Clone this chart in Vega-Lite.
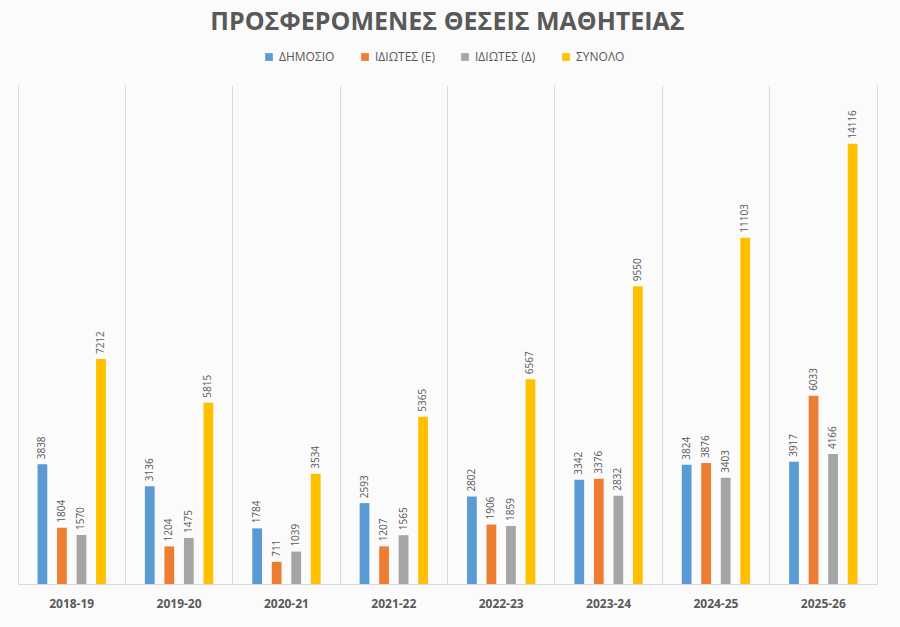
{
  "$schema": "https://vega.github.io/schema/vega-lite/v6.json",
  "width": 859,
  "height": 499,
  "autosize": "none",
  "padding": {"left": 18, "top": 85, "right": 23, "bottom": 43},
  "background": "#fbfbfb",
  "title": {
    "text": "ΠΡΟΣΦΕΡΟΜΕΝΕΣ ΘΕΣΕΙΣ ΜΑΘΗΤΕΙΑΣ",
    "font": "Open Sans",
    "fontSize": 25,
    "fontWeight": "bold",
    "color": "#595959",
    "anchor": "middle",
    "offset": 16
  },
  "data": {
    "values": [
      {"year": "2018-19", "series": "ΔΗΜΟΣΙΟ", "value": 3838},
      {"year": "2018-19", "series": "ΙΔΙΩΤΕΣ (Ε)", "value": 1804},
      {"year": "2018-19", "series": "ΙΔΙΩΤΕΣ (Δ)", "value": 1570},
      {"year": "2018-19", "series": "ΣΥΝΟΛΟ", "value": 7212},
      {"year": "2019-20", "series": "ΔΗΜΟΣΙΟ", "value": 3136},
      {"year": "2019-20", "series": "ΙΔΙΩΤΕΣ (Ε)", "value": 1204},
      {"year": "2019-20", "series": "ΙΔΙΩΤΕΣ (Δ)", "value": 1475},
      {"year": "2019-20", "series": "ΣΥΝΟΛΟ", "value": 5815},
      {"year": "2020-21", "series": "ΔΗΜΟΣΙΟ", "value": 1784},
      {"year": "2020-21", "series": "ΙΔΙΩΤΕΣ (Ε)", "value": 711},
      {"year": "2020-21", "series": "ΙΔΙΩΤΕΣ (Δ)", "value": 1039},
      {"year": "2020-21", "series": "ΣΥΝΟΛΟ", "value": 3534},
      {"year": "2021-22", "series": "ΔΗΜΟΣΙΟ", "value": 2593},
      {"year": "2021-22", "series": "ΙΔΙΩΤΕΣ (Ε)", "value": 1207},
      {"year": "2021-22", "series": "ΙΔΙΩΤΕΣ (Δ)", "value": 1565},
      {"year": "2021-22", "series": "ΣΥΝΟΛΟ", "value": 5365},
      {"year": "2022-23", "series": "ΔΗΜΟΣΙΟ", "value": 2802},
      {"year": "2022-23", "series": "ΙΔΙΩΤΕΣ (Ε)", "value": 1906},
      {"year": "2022-23", "series": "ΙΔΙΩΤΕΣ (Δ)", "value": 1859},
      {"year": "2022-23", "series": "ΣΥΝΟΛΟ", "value": 6567},
      {"year": "2023-24", "series": "ΔΗΜΟΣΙΟ", "value": 3342},
      {"year": "2023-24", "series": "ΙΔΙΩΤΕΣ (Ε)", "value": 3376},
      {"year": "2023-24", "series": "ΙΔΙΩΤΕΣ (Δ)", "value": 2832},
      {"year": "2023-24", "series": "ΣΥΝΟΛΟ", "value": 9550},
      {"year": "2024-25", "series": "ΔΗΜΟΣΙΟ", "value": 3824},
      {"year": "2024-25", "series": "ΙΔΙΩΤΕΣ (Ε)", "value": 3876},
      {"year": "2024-25", "series": "ΙΔΙΩΤΕΣ (Δ)", "value": 3403},
      {"year": "2024-25", "series": "ΣΥΝΟΛΟ", "value": 11103},
      {"year": "2025-26", "series": "ΔΗΜΟΣΙΟ", "value": 3917},
      {"year": "2025-26", "series": "ΙΔΙΩΤΕΣ (Ε)", "value": 6033},
      {"year": "2025-26", "series": "ΙΔΙΩΤΕΣ (Δ)", "value": 4166},
      {"year": "2025-26", "series": "ΣΥΝΟΛΟ", "value": 14116}
    ]
  },
  "encoding": {
    "x": {
      "field": "year",
      "type": "nominal",
      "sort": null,
      "scale": {"paddingInner": 0, "paddingOuter": 0},
      "axis": {
        "title": null,
        "labelAngle": 0,
        "labelFont": "Open Sans",
        "labelFontSize": 12,
        "labelFontWeight": "bold",
        "labelColor": "#595959",
        "labelPadding": 14,
        "ticks": false,
        "domainColor": "#d9d9d9",
        "grid": true,
        "gridColor": "#d9d9d9",
        "bandPosition": 0
      }
    },
    "xOffset": {
      "field": "series",
      "type": "nominal",
      "sort": ["ΔΗΜΟΣΙΟ", "ΙΔΙΩΤΕΣ (Ε)", "ΙΔΙΩΤΕΣ (Δ)", "ΣΥΝΟΛΟ"],
      "scale": {"paddingInner": 0.5, "paddingOuter": 1.17}
    },
    "y": {
      "field": "value",
      "type": "quantitative",
      "scale": {"domain": [0, 16000]},
      "axis": {
        "orient": "right",
        "title": null,
        "labels": false,
        "ticks": false,
        "grid": false,
        "domain": true,
        "domainColor": "#d9d9d9"
      }
    }
  },
  "layer": [
    {
      "mark": {"type": "bar"},
      "encoding": {
        "color": {
          "field": "series",
          "type": "nominal",
          "scale": {
            "domain": ["ΔΗΜΟΣΙΟ", "ΙΔΙΩΤΕΣ (Ε)", "ΙΔΙΩΤΕΣ (Δ)", "ΣΥΝΟΛΟ"],
            "range": ["#5B9BD5", "#ED7D31", "#A5A5A5", "#FFC000"]
          },
          "legend": {
            "title": null,
            "orient": "none",
            "direction": "horizontal",
            "legendX": 245,
            "legendY": -34,
            "symbolType": "square",
            "symbolSize": 60,
            "symbolStrokeWidth": 0,
            "labelFont": "Open Sans",
            "labelFontSize": 12,
            "labelColor": "#595959",
            "columnPadding": 24,
            "labelOffset": 4
          }
        }
      }
    },
    {
      "mark": {
        "type": "text",
        "angle": 270,
        "align": "left",
        "baseline": "middle",
        "dx": 5,
        "font": "Open Sans",
        "fontSize": 10,
        "color": "#595959"
      },
      "encoding": {
        "text": {"field": "value", "type": "quantitative", "format": "d"}
      }
    }
  ],
  "config": {
    "view": {"stroke": null}
  }
}
